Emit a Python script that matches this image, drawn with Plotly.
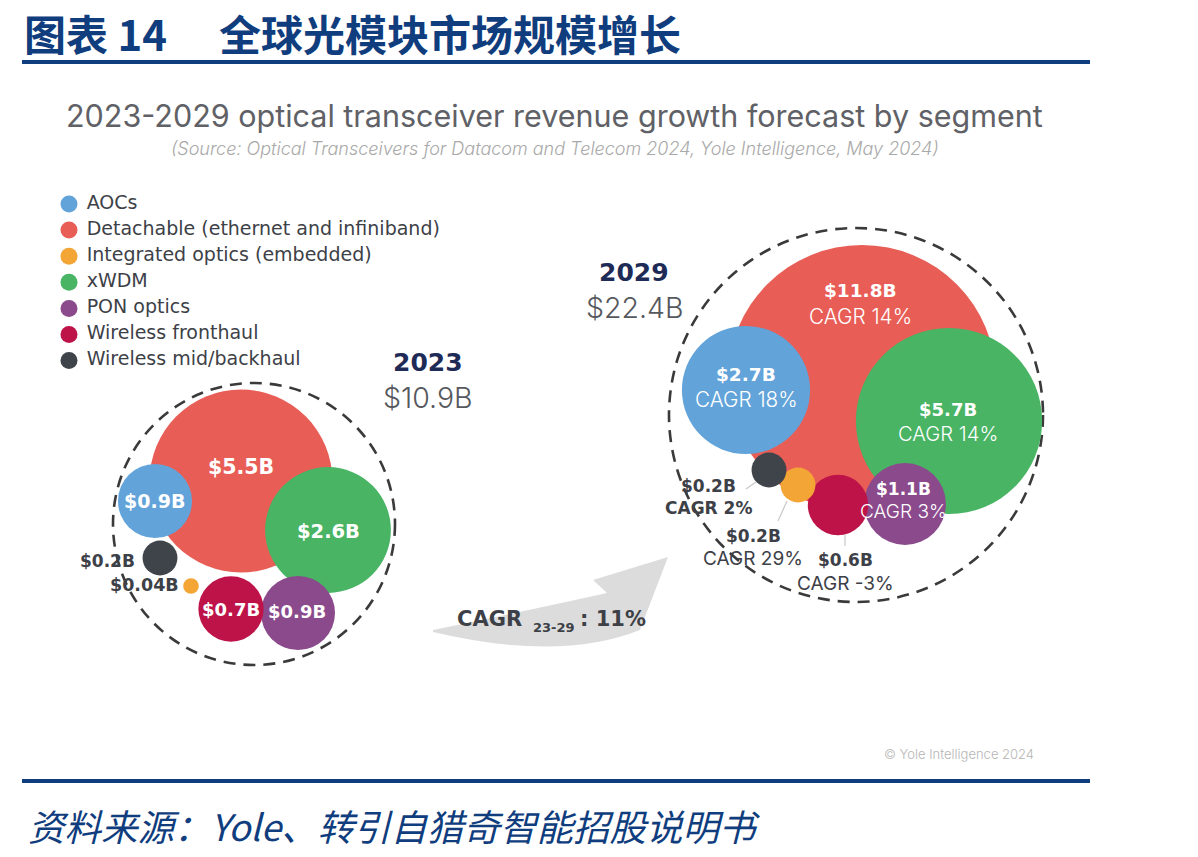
import math
import plotly.graph_objects as go

# ---------------- data ----------------
categories = ["AOCs", "Detachable (ethernet and infiniband)", "Integrated optics (embedded)",
              "xWDM", "PON optics", "Wireless fronthaul", "Wireless mid/backhaul"]
rev_2023 = [0.9, 5.5, 0.04, 2.6, 0.9, 0.7, 0.2]      # $B
rev_2029 = [2.7, 11.8, 0.2, 5.7, 1.1, 0.6, 0.2]      # $B
cagr_23_29 = [18, 14, 29, 14, 3, -3, 2]              # %
years = ["2023", "2029"]
totals = [10.9, 22.4]                                # $B
cagr_total = 11                                      # %
cagr_period = "23-29"

# ---------------- styles / layout ----------------
colors = ["#62a3d9", "#e85d56", "#f3a536", "#48b464", "#8a4a8c", "#bd1349", "#3f444a"]
W, H = 1198, 857
K = 39.0                      # radius (px) per sqrt($B)
FONT = "DejaVu Sans"
LIGHT = "Inter"
DARK = "#3d4147"
NAVY = "#1f2b57"
RULE = "#0f3d7d"

pos_2023 = [(155, 501), (241, 481), (191, 586), (328, 530), (298, 613), (231, 609), (160, 558)]
pos_2029 = [(746, 390), (862, 379), (798, 485), (949, 421), (905, 504), (838, 505), (769, 470)]
ring_2023 = (254, 524, 141)
ring_2029 = (856, 415, 187)

fig = go.Figure()

def bubbles(vals, pos):
    order = sorted(range(len(vals)), key=lambda i: -vals[i])
    fig.add_trace(go.Scatter(
        x=[pos[i][0] for i in order], y=[pos[i][1] for i in order], mode="markers",
        marker=dict(size=[2 * K * math.sqrt(vals[i]) for i in order],
                    color=[colors[i] for i in order], line=dict(width=0), opacity=1),
        hoverinfo="skip", showlegend=False))

bubbles(rev_2023, pos_2023)
bubbles(rev_2029, pos_2029)

# legend (custom)
leg_y = [204 + 26.1 * i for i in range(len(categories))]
fig.add_trace(go.Scatter(
    x=[69] * len(categories), y=leg_y, mode="markers+text",
    marker=dict(size=17, color=colors, line=dict(width=0)),
    text=[" " + c for c in categories], textposition="middle right",
    textfont=dict(family=FONT, size=19, color=DARK),
    hoverinfo="skip", showlegend=False))

shapes = []
for cx, cy, r in (ring_2023, ring_2029):
    shapes.append(dict(type="circle", xref="x", yref="y", x0=cx - r, x1=cx + r, y0=cy - r, y1=cy + r,
                       line=dict(color="#3a3a3a", width=2.6, dash="12px,8px"), layer="below"))
# header / footer rules
for yy in (62, 781):
    shapes.append(dict(type="line", xref="x", yref="y", x0=22, x1=1090, y0=yy, y1=yy,
                       line=dict(color=RULE, width=4)))
# growth arrow
shapes.append(dict(type="path", xref="x", yref="y",
                   path="M 433,630 Q 530,610 607,593 L 593,580 L 668,557 L 640,630 Q 560,662 433,632 Z",
                   fillcolor="#dcdcdc", line=dict(width=0), layer="below"))
# leader lines (2029 small segments)
for x0, y0, x1, y1 in ((756, 482, 746, 489), (787, 501, 778, 521), (845, 534, 845, 546)):
    shapes.append(dict(type="line", xref="x", yref="y", x0=x0, y0=y0, x1=x1, y1=y1,
                       line=dict(color="#c8c8c8", width=1.2)))

ann = []
def txt(x, y, s, size, color=DARK, weight=400, xanchor="center", style="normal", family=FONT):
    ann.append(dict(x=x, y=y, xref="x", yref="y", text=s, showarrow=False, xanchor=xanchor,
                    yanchor="middle", font=dict(family=family, size=size, color=color,
                                                 weight=weight, style=style)))

def money(v):
    return f"${v:g}B"

# titles
CJK = "Noto Sans CJK SC"
txt(22, 32, "图表 14", 42, RULE, 700, "left", family=CJK)
txt(217, 32, "全球光模块市场规模增长", 42, RULE, 700, "left", family=CJK)
txt(554, 115, "2023-2029 optical transceiver revenue growth forecast by segment", 30.5, "#5f6166", 400,
    family=LIGHT)
txt(555, 148, "(Source: Optical Transceivers for Datacom and Telecom 2024, Yole Intelligence, May 2024)",
    18, "#a9a9a9", 300, style="italic", family=LIGHT)
txt(26, 825, "资料来源：Yole、转引自猎奇智能招股说明书", 36.5, RULE, 400, "left", "italic", family=CJK)
txt(959, 754, "© Yole Intelligence 2024", 13, "#b5b5b5", 300, family=LIGHT)

# year headers
for (hx, hy), yr, tot in zip([(428, 362), (634, 272)], years, totals):
    txt(hx, hy, yr, 25, NAVY, 700)
    txt(hx, hy + 35, money(tot), 28.5, "#55585d", 300, family=LIGHT)

# 2023 labels
lab23 = {0: (154, 501, "center", "white", 19), 1: (241, 467, "center", "white", 20.5),
         3: (328, 531, "center", "white", 19.5), 4: (297, 611, "center", "white", 18),
         5: (231, 609, "center", "white", 18), 6: (137, 561, "right", DARK, 17),
         2: (181, 585, "right", DARK, 17.5)}
for i, (lx, ly, xa, col, sz) in lab23.items():
    txt(lx, ly, money(rev_2023[i]), sz, col, 700, xa)

# 2029 labels: (x, y_value, y_cagr, colour, size, cagr font, cagr weight)
lab29 = {1: (860, 290, 316, "white", 18.5, LIGHT, 300), 0: (746, 374, 399, "white", 18.5, LIGHT, 300),
         3: (948, 409, 433, "white", 18, LIGHT, 300), 4: (903, 489, 511, "white", 17, LIGHT, 300),
         6: (708, 486, 508, DARK, 17, FONT, 700), 2: (753, 536, 558, DARK, 17, LIGHT, 400),
         5: (845, 560, 583, DARK, 17, LIGHT, 400)}
for i, (lx, ly, lc, col, sz, cf, cw) in lab29.items():
    txt(lx, ly, money(rev_2029[i]), sz, col, 700)
    csz = sz if cf == FONT else sz * 1.12
    txt(lx, lc, f"CAGR {cagr_23_29[i]}%", csz, col, cw, family=cf)

# overall CAGR on arrow
txt(455, 619, "CAGR", 21, DARK, 700, "left")
txt(531, 627, cagr_period, 13, DARK, 700, "left")
txt(578, 619, f": {cagr_total}%", 21, DARK, 700, "left")

fig.update_layout(
    width=W, height=H, autosize=False, margin=dict(l=0, r=0, t=0, b=0),
    paper_bgcolor="white", plot_bgcolor="white",
    xaxis=dict(range=[0, W], visible=False, fixedrange=True),
    yaxis=dict(range=[H, 0], visible=False, fixedrange=True),
    shapes=shapes, annotations=ann, showlegend=False)

fig.write_html("out.html")
